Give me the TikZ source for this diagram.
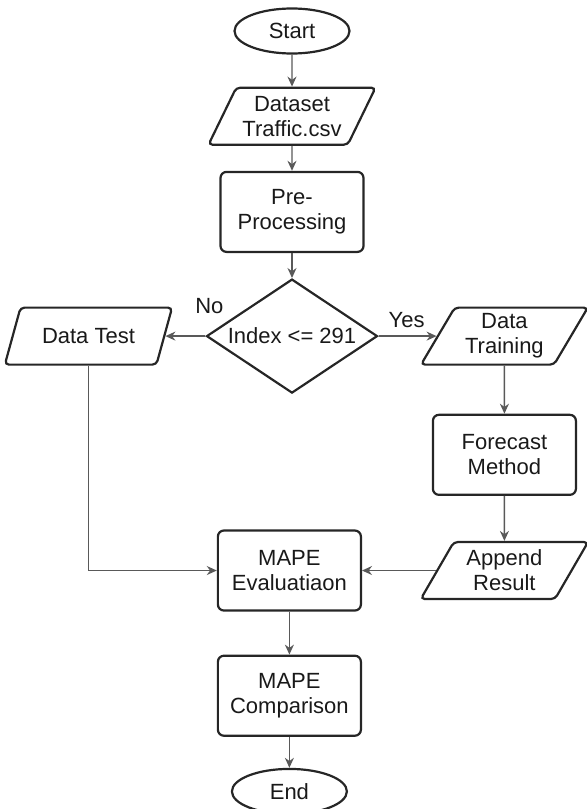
\documentclass[tikz,border=0pt]{standalone}
\usepackage{fontspec}
\setmainfont{Liberation Sans}
\usetikzlibrary{positioning,shapes.geometric,arrows.meta}
\tikzset{node distance=2.0cm, auto}
\tikzset{
  terminal/.style={ellipse, draw=black!85, line width=1.1pt,
    minimum width=57.5pt, minimum height=22.5pt, inner sep=1pt},
  process/.style={rectangle, rounded corners=3pt, draw=black!85, line width=1.1pt,
    minimum width=71.5pt, minimum height=40pt, align=center},
  io/.style={trapezium, trapezium left angle=60, trapezium right angle=120,
    trapezium stretches=true, rounded corners=2pt, draw=black!85, line width=1.1pt,
    minimum width=84pt, minimum height=28.5pt, align=center, inner sep=1pt},
  decision/.style={diamond, aspect=1.5, draw=black!85, line width=1.1pt,
    minimum width=85.5pt, minimum height=57pt, inner sep=0.5pt},
  flow/.style={draw=black!65, line width=0.7pt, -{Stealth[length=5pt,width=4.5pt]}}
}

\begin{document}
\begin{tikzpicture}[
  every node/.append style={font=\fontsize{11}{12.5}\selectfont, text=black!90}
]
\useasboundingbox (0,0) rectangle (293.5pt,-404.5pt);

\node (start) [terminal] at (146pt,-15.5pt) {Start};
\node (dataset) [io, below=16pt of start] {Dataset\\Traffic.csv};
\node (preproc) [process, below=12.5pt of dataset] {Pre-\\Processing};
\node (decide) [decision, below=12.5pt of preproc] {Index <= 291};
\node (datatest) [io, left=20pt of decide] {Data Test};
\node (datatrain) [io, right=29pt of decide] {Data\\Training};
\node (forecast) [process, below=24pt of datatrain] {Forecast\\Method};
\node (append) [io, below=22.5pt of forecast] {Append\\Result};
\node (eval) [process, left=37pt of append] {MAPE\\Evaluatiaon};
\node (compare) [process, below=21.5pt of eval] {MAPE\\Comparison};
\node (stop) [terminal, below=15.5pt of compare] {End};

% labels of the decision
\node (nolbl) at ([xshift=2pt,yshift=15pt]decide.west) {No};
\node (yeslbl) at ([xshift=14pt,yshift=8pt]decide.east) {Yes};

\draw[flow] (start) -- (dataset);
\draw[flow] (dataset) -- (preproc);
\draw[flow] (preproc) -- (decide);
\draw[flow] (decide.west) -- (datatest.east);
\draw[flow] (decide.east) -- (datatrain.west);
\draw[flow] (datatrain) -- (forecast);
\draw[flow] (forecast) -- (append);
\draw[flow] (append.west) -- (eval.east);
\draw[flow] (datatest.south) |- (eval.west);
\draw[flow] (eval) -- (compare);
\draw[flow] (compare) -- (stop);
\end{tikzpicture}
\end{document}
